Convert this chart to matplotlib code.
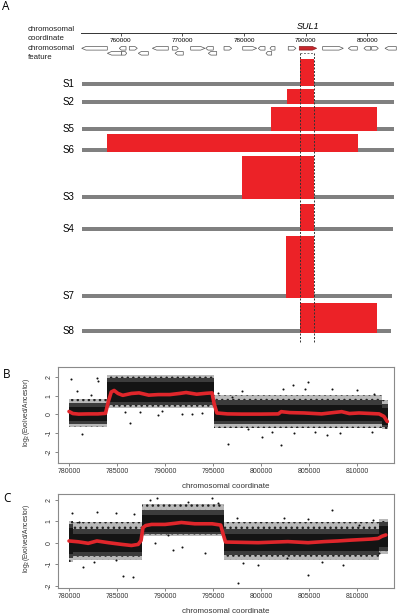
import matplotlib
matplotlib.use('Agg')
import matplotlib.pyplot as plt
from matplotlib.patches import Polygon

plt.rcParams['font.family'] = ['Liberation Sans', 'DejaVu Sans']
plt.rcParams['hatch.linewidth'] = 1.0

W, H = 401, 614

# ---------------- panel A data ----------------
coord_ticks = [760000, 770000, 780000, 790000, 800000]
coord_range = (753560, 804655)

# gene features (start, end, strand, row)
gene_start = [753670, 759770, 761400, 765130, 768370, 771350, 773790, 776760, 779790,
              782320, 784220, 787180, 792760, 796920, 799460, 800710, 802870,
              757830, 760160, 762850, 768810, 774210, 783570]
gene_end = [757830, 760860, 762690, 767720, 769340, 773670, 775020, 778000, 782060,
            783410, 785030, 788430, 796110, 798380, 800550, 801780, 804700,
            760160, 760970, 764480, 770150, 775570, 784490]
gene_strand = ['-', '-', '+', '-', '+', '+', '-', '+', '+',
               '-', '-', '+', '+', '-', '-', '+', '-',
               '-', '+', '-', '-', '-', '-']
gene_row = [0] * 17 + [1] * 6
sul1 = (788970, 791790)
sul1_box = (789080, 791400)

samples = ['S1', 'S2', 'S5', 'S6', 'S3', 'S4', 'S7', 'S8']
amp_start = [789080, 787020, 784330, 757830, 779630, 789080, 786760, 789080]
amp_end = [791400, 791400, 801570, 798440, 791400, 791400, 791400, 801570]
amp_height = [25, 12.4, 22.7, 16, 41.7, 24.7, 59.7, 28]
chrom_start = 753670
chrom_end = [804330, 804330, 804330, 804330, 804330, 804170, 804000, 803840]

# ---------------- panel B / C data ----------------
xticks_bc = [780000, 785000, 790000, 795000, 800000, 805000, 810000]

b_seg_x0 = [780000, 784000, 795050, 812600]
b_seg_x1 = [784000, 795050, 812600, 813250]
b_core_lo = [-0.35, 0.65, -0.35, -0.55]
b_core_hi = [0.42, 1.72, 0.5, 0.35]
b_mid_lo = [-0.5, 0.5, -0.52, -0.68]
b_mid_hi = [0.62, 1.95, 0.75, 0.55]
b_out_lo = [-0.68, 0.36, -0.72, -0.78]
b_out_hi = [0.85, 2.12, 1.02, 0.75]
b_pts_x = [780210, 782880, 783050, 780800, 781390, 786350, 785830, 787400, 789300,
           789650, 791740, 792780, 793820, 796600, 802320, 803370, 804590, 804860,
           807360, 809970, 811800, 802080, 800130, 801110, 803470, 805630, 806850,
           808230, 811600, 798650, 798020, 796980, 782300, 795550]
b_pts_y = [1.87, 1.94, 1.81, 1.23, -1.03, -0.46, 0.12, 0.12, -0.05,
           0.16, 0.03, 0.03, 0.1, -1.57, 1.37, 1.55, 1.37, 1.72,
           1.37, 1.28, 1.1, -1.65, -1.21, -0.91, -0.98, -0.91, -1.09,
           -0.98, -0.94, -0.77, 1.25, 0.92, 1.05, 1.12]
b_fit_x = [780000, 780400, 781000, 782000, 783000, 783800, 784100, 784400, 784700,
           785100, 785600, 786500, 787300, 788300, 789300, 790500, 791500, 792200,
           793300, 794300, 794900, 795100, 795400, 796500, 798000, 800000, 801800,
           802100, 803000, 804500, 806300, 807500, 808400, 809200, 810200, 811500,
           812300, 812800, 813150]
b_fit_y = [0.16, 0.05, 0.02, 0.03, 0.03, 0.06, 0.7, 1.2, 1.28,
           1.12, 1.02, 1.12, 1.15, 1.03, 1.06, 1.06, 1.12, 1.17,
           1.08, 1.13, 1.15, 0.6, 0.08, 0.03, 0.02, 0.02, 0.03,
           0.15, 0.1, 0.08, 0.03, 0.1, 0.15, 0.05, 0.08, 0.05,
           0.03, -0.1, -0.38]

c_seg_x0 = [780000, 780400, 787600, 796100, 812300]
c_seg_x1 = [780400, 787600, 796100, 812300, 813200]
c_core_lo = [-0.55, -0.42, 0.52, -0.4, -0.2]
c_core_hi = [0.7, 0.42, 1.3, 0.42, 0.8]
c_mid_lo = [-0.72, -0.6, 0.4, -0.56, -0.38]
c_mid_hi = [0.88, 0.65, 1.52, 0.66, 0.98]
c_out_lo = [-0.88, -0.82, 0.3, -0.8, -0.52]
c_out_hi = [1.02, 0.95, 1.82, 0.94, 1.12]
c_pts_x = [780350, 781040, 782950, 784860, 786770, 781420, 785590, 786630, 784860,
           782630, 788440, 789130, 792430, 794860, 795550, 788960, 790870, 791740,
           794170, 790350, 797640, 804860, 807360, 797470, 802430, 804900, 808540,
           798160, 799720, 802670, 806320, 812240, 810240, 811630]
c_pts_y = [1.36, 0.98, 1.41, 1.36, 1.32, -1.15, -1.54, -1.58, -0.81,
           -0.92, 1.98, 2.06, 1.9, 2.09, 1.83, -0.03, -0.34, -0.19,
           -0.5, 0.35, -1.89, -1.51, 1.52, 1.16, 1.13, 1.1, -1.04,
           -0.96, -1.04, -0.73, -0.88, -0.5, 0.82, 1.05]
c_fit_x = [780000, 781000, 782000, 782900, 784100, 785500, 786500, 787200, 787500,
           787700, 788000, 788600, 790000, 791000, 791700, 793100, 794900, 795800,
           796050, 796300, 797500, 799700, 801500, 802800, 804900, 806600, 808000,
           809400, 811500, 812200, 812600, 813000]
c_fit_y = [0.08, 0.04, -0.03, 0.08, 0.0, -0.08, -0.13, -0.08, 0.1,
           0.7, 0.8, 0.85, 0.85, 0.9, 0.94, 0.88, 0.88, 0.82,
           0.4, 0.03, 0.02, 0.0, 0.03, 0.05, 0.0, 0.05, 0.08,
           0.12, 0.17, 0.2, 0.3, 0.36]

RED = '#ec2227'
FIT_RED = '#e0262b'

fig = plt.figure(figsize=(W / 100, H / 100), dpi=100)

# panel A is drawn in an axes covering the whole figure: x in bp, y in pixels
px_per_bp = 61.65 / 10000
a_x0 = 760000 - 120.7 / px_per_bp
a_x1 = a_x0 + W / px_per_bp
axA = fig.add_axes([0, 0, 1, 1])
axA.set_xlim(a_x0, a_x1)
axA.set_ylim(H, 0)
axA.axis('off')

# coordinate axis (its own axes so the ticks come from matplotlib)
l = (coord_range[0] - a_x0) * px_per_bp
r = (coord_range[1] - a_x0) * px_per_bp
axK = fig.add_axes([l / W, 1 - 33.3 / H, (r - l) / W, 0.0001])
axK.set_xlim(*coord_range)
axK.set_yticks([])
for s in ['top', 'left', 'right']:
    axK.spines[s].set_visible(False)
axK.spines['bottom'].set_linewidth(0.7)
axK.spines['bottom'].set_color('#333333')
axK.set_xticks(coord_ticks)
axK.set_xticklabels([str(t) for t in coord_ticks])
axK.tick_params(axis='x', length=2.2, width=0.6, color='#333333', labelsize=4.6, pad=1.2)
axK.patch.set_visible(False)

axA.text(a_x0 + 27.5 / px_per_bp, 34, 'chromosomal\ncoordinate', fontsize=5.7,
         va='center', ha='left', linespacing=1.25, color='#222222')
axA.text(a_x0 + 27.5 / px_per_bp, 53, 'chromosomal\nfeature', fontsize=5.7,
         va='center', ha='left', linespacing=1.25, color='#222222')
axA.text((sul1[0] + sul1[1]) / 2, 26.5, 'SUL1', fontsize=6.5, style='italic',
         ha='center', va='center')

# gene arrows
row_y = [48.3, 53.3]
gh = 3.6
for s, e, st, rw in zip(gene_start, gene_end, gene_strand, gene_row):
    y = row_y[rw]
    tip = min(0.3 * (e - s), 700)
    if st == '+':
        pts = [(s, y - gh / 2), (e - tip, y - gh / 2), (e, y), (e - tip, y + gh / 2), (s, y + gh / 2)]
    else:
        pts = [(e, y - gh / 2), (s + tip, y - gh / 2), (s, y), (s + tip, y + gh / 2), (e, y + gh / 2)]
    axA.add_patch(Polygon(pts, closed=True, facecolor='white', edgecolor='#555555', lw=0.5))
s, e = sul1
tip = 700
y = row_y[0]
axA.add_patch(Polygon([(s, y - gh / 2), (e - tip, y - gh / 2), (e, y), (e - tip, y + gh / 2), (s, y + gh / 2)],
                      closed=True, facecolor='#c8262b', edgecolor='#8a1a1d', lw=0.5))

# sample tracks
bar_y = [84, 101.7, 129.3, 150, 197.3, 229, 295.7, 330.7]
for i, name in enumerate(samples):
    yb = bar_y[i]
    axA.barh(yb, chrom_end[i] - chrom_start, left=chrom_start, height=4,
             color='#808080', linewidth=0)
    axA.bar(amp_start[i], amp_height[i] + 2, width=amp_end[i] - amp_start[i],
            bottom=yb - amp_height[i], align='edge', color=RED, linewidth=0)
    axA.text(a_x0 + 74.5 / px_per_bp, yb, name, fontsize=7, ha='right', va='center')

for xv in sul1_box:
    axA.plot([xv, xv], [52.5, 342], color='#333333', lw=0.7, ls=(0, (2, 1.6)))
axA.plot(list(sul1_box), [52.5, 52.5], color='#777777', lw=0.7, ls=(0, (2, 1.6)))


def draw_cnv(ax, x0, x1, clo, chi, mlo, mhi, olo, ohi, px, py, fx, fy, ylim):
    for a, b, lo, hi, lo1, hi1, lo2, hi2 in zip(x0, x1, clo, chi, mlo, mhi, olo, ohi):
        ax.fill_between([a, b], [lo2, lo2], [hi2, hi2], facecolor='#b8b8b8',
                        edgecolor='#222222', hatch='...', linewidth=0)
        ax.fill_between([a, b], [lo1, lo1], [hi1, hi1], color='#3c3c3c', linewidth=0)
        ax.fill_between([a, b], [lo, lo], [hi, hi], color='#141414', linewidth=0)
    ax.scatter(px, py, s=2.2, c='#111111', linewidths=0)
    ax.plot(fx, fy, color=FIT_RED, lw=2.6, solid_capstyle='round')
    ax.set_xlim(778820, 813850)
    ax.set_ylim(*ylim)
    ax.set_xticks(xticks_bc)
    ax.set_xticklabels([str(t) for t in xticks_bc])
    ax.set_yticks([-2, -1, 0, 1, 2])
    ax.set_yticklabels(['-2', '-1', '0', '1', '2'], rotation=90, va='center')
    for sp in ax.spines.values():
        sp.set_color('#8a8a8a')
        sp.set_linewidth(0.8)
    ax.tick_params(length=2.2, width=0.5, color='#555555', labelsize=5,
                   labelcolor='#333333', pad=1.5)
    ax.set_xlabel('chromosomal coordinate', fontsize=5.8, color='#333333')
    ax.xaxis.set_label_coords(0.5, -0.215)
    ax.set_ylabel('log$_2$(Evolved/Ancestor)', fontsize=4.8, color='#333333')
    ax.yaxis.set_label_coords(-0.075, 0.53)


axB = fig.add_axes([57.7 / W, 1 - 462.7 / H, 336.3 / W, 95.7 / H])
draw_cnv(axB, b_seg_x0, b_seg_x1, b_core_lo, b_core_hi, b_mid_lo, b_mid_hi,
         b_out_lo, b_out_hi, b_pts_x, b_pts_y, b_fit_x, b_fit_y, (-2.57, 2.53))

axC = fig.add_axes([57.7 / W, 1 - 588 / H, 336.3 / W, 94.5 / H])
draw_cnv(axC, c_seg_x0, c_seg_x1, c_core_lo, c_core_hi, c_mid_lo, c_mid_hi,
         c_out_lo, c_out_hi, c_pts_x, c_pts_y, c_fit_x, c_fit_y, (-2.11, 2.29))

for lab, x, y in [('A', 2, 6), ('B', 3, 374), ('C', 3, 498)]:
    fig.text(x / W, 1 - y / H, lab, fontsize=8.5, family='Open Sans', va='center', ha='left')

fig.savefig('out.png', dpi=100)
